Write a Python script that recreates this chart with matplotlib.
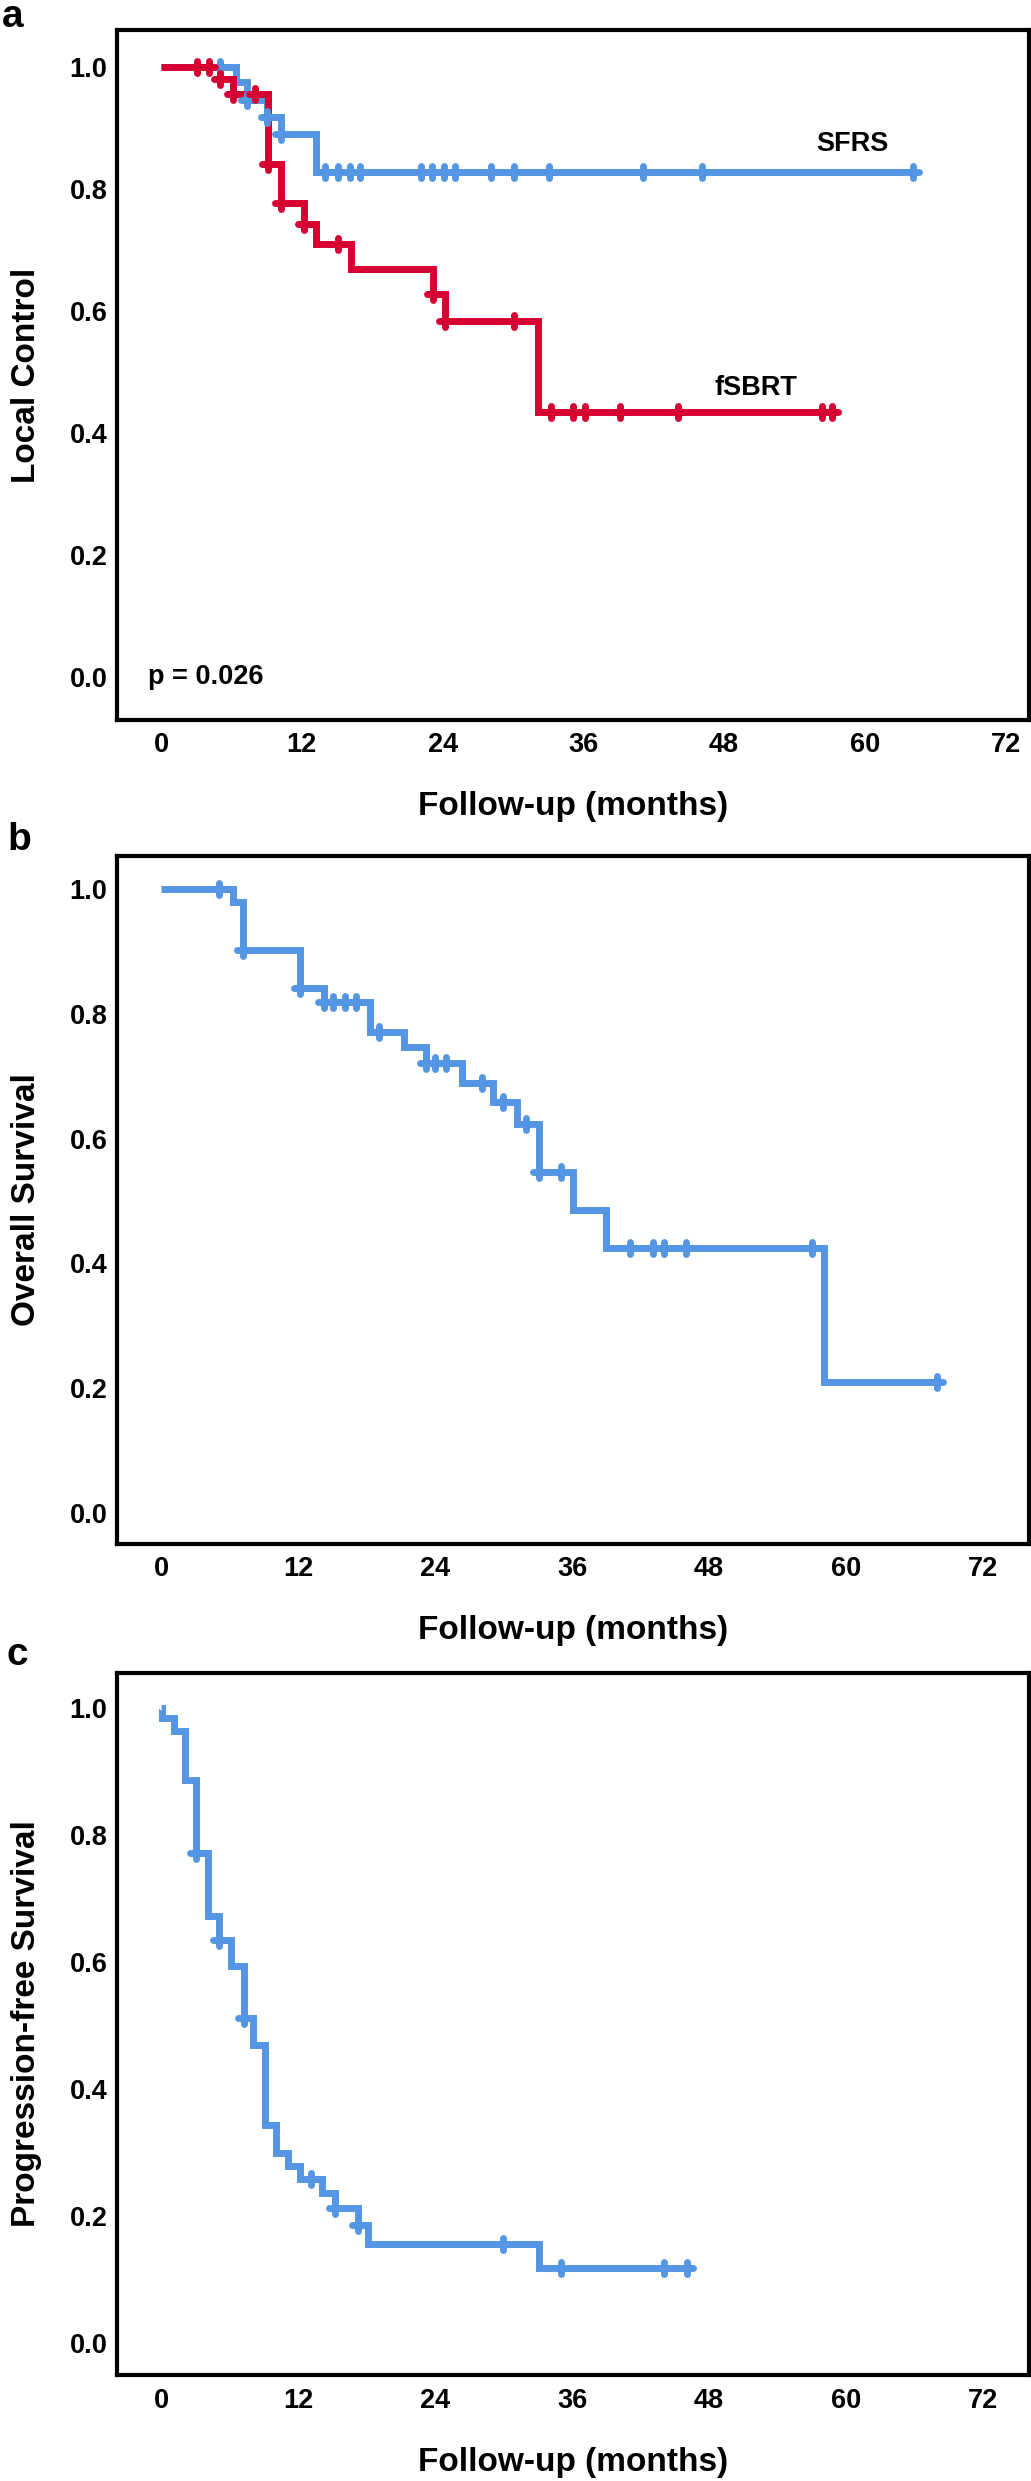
import numpy as np
import matplotlib
matplotlib.use("Agg")
import matplotlib.pyplot as plt
from matplotlib.markers import MarkerStyle

plt.rcParams['font.family'] = ['Liberation Sans', 'DejaVu Sans']
plt.rcParams['font.weight'] = 'bold'
plt.rcParams['axes.labelweight'] = 'bold'

RED = '#d60032'
BLUE = '#5596e4'

# ---- panel a: local control, SFRS vs fSBRT ----
sfrs_times = [6.4, 7.3, 9.0, 10.2, 13.2]
sfrs_surv = [0.975, 0.945, 0.918, 0.889, 0.828]
sfrs_cens = [5.0, 7.3, 9.0, 10.2, 14.0, 15.1, 16.1, 17.0, 22.2, 23.1, 24.1,
             25.1, 28.1, 30.1, 33.1, 41.1, 46.1, 64.1]

fsbrt_times = [5.0, 6.1, 9.1, 10.2, 12.2, 13.2, 16.2, 23.2, 24.2, 32.1]
fsbrt_surv = [0.979, 0.956, 0.840, 0.776, 0.743, 0.709, 0.668, 0.627, 0.583, 0.434]
fsbrt_cens = [3.1, 4.1, 5.0, 6.1, 8.0, 9.1, 10.2, 12.2, 15.1, 23.2, 24.2, 30.1,
              33.2, 35.1, 36.1, 39.1, 44.1, 56.3, 57.2]

# ---- panel b: overall survival ----
os_times = [6.3, 7.2, 12.2, 14.3, 18.3, 21.3, 23.2, 26.4, 29.1, 31.2, 33.1,
            36.1, 39.0, 58.1]
os_surv = [0.979, 0.902, 0.841, 0.819, 0.771, 0.747, 0.721, 0.689, 0.659,
           0.624, 0.547, 0.486, 0.425, 0.210]
os_cens = [5.1, 7.2, 12.2, 14.3, 15.1, 16.1, 17.1, 19.1, 23.2, 24.0, 25.0,
           28.1, 30.0, 32.0, 33.1, 35.0, 41.1, 43.1, 44.1, 46.0, 57.0, 68.0]

# ---- panel c: progression-free survival ----
pfs_times = [0.1, 1.1, 2.1, 3.1, 4.1, 5.1, 6.1, 7.3, 8.1, 9.1, 10.1, 11.1,
             12.2, 14.1, 15.2, 17.3, 18.1, 33.1]
pfs_surv = [0.984, 0.964, 0.887, 0.772, 0.672, 0.635, 0.594, 0.512, 0.469,
            0.343, 0.299, 0.279, 0.258, 0.236, 0.213, 0.186, 0.156, 0.118]
pfs_cens = [3.1, 5.1, 7.3, 13.1, 15.2, 17.3, 30.0, 35.0, 44.1, 46.1]

x_ticks = [0, 12, 24, 36, 48, 60, 72]
y_ticks = [0.0, 0.2, 0.4, 0.6, 0.8, 1.0]

W, H = 1031, 2481
fig = plt.figure(figsize=(W / 100, H / 100), dpi=100)

cens_marker = MarkerStyle('+', capstyle='round')


def km_curve(ax, times, surv, cens, color):
    x = np.r_[0, times, max(cens)]
    y = np.r_[1.0, surv, surv[-1]]
    ax.step(x, y, where='post', color=color, lw=5, solid_joinstyle='miter',
            solid_capstyle='butt', zorder=3)


def km_cens(ax, times, surv, cens, color):
    t = np.r_[0, times]
    s = np.r_[1.0, surv]
    idx = np.searchsorted(t, cens, side='right') - 1
    ax.plot(cens, s[idx], linestyle='none', marker=cens_marker, ms=9,
            mew=5, color=color, zorder=4)


def make_axes(top, bottom, xlim, ylim, ylabel):
    left, right = 117, 1028.5
    ax = fig.add_axes([left / W, 1 - bottom / H, (right - left) / W, (bottom - top) / H])
    ax.set_xlim(*xlim)
    ax.set_ylim(*ylim)
    ax.set_xticks(x_ticks)
    ax.set_yticks(y_ticks)
    ax.set_yticklabels([f'{v:.1f}' for v in y_ticks])
    ax.tick_params(axis='both', length=0, labelsize=19.5)
    ax.tick_params(axis='x', pad=9)
    ax.tick_params(axis='y', pad=7)
    for sp in ax.spines.values():
        sp.set_linewidth(3)
        sp.set_color('black')
    ax.set_xlabel('Follow-up (months)', fontsize=24, fontweight='bold', va='center')
    ax.xaxis.set_label_coords(0.5, -87 / (bottom - top))
    ax.set_ylabel(ylabel, fontsize=24, fontweight='bold', va='center')
    ax.yaxis.set_label_coords(-90 / (right - left), 0.5)
    return ax


# panel a
ax1 = make_axes(30, 720, (-3.75, 73.94), (-0.07, 1.06), 'Local Control')
km_curve(ax1, sfrs_times, sfrs_surv, sfrs_cens, BLUE)
km_curve(ax1, fsbrt_times, fsbrt_surv, fsbrt_cens, RED)
km_cens(ax1, sfrs_times, sfrs_surv, sfrs_cens, BLUE)
km_cens(ax1, fsbrt_times, fsbrt_surv, fsbrt_cens, RED)
ax1.text(58.9, 0.874, 'SFRS', fontsize=19.5, ha='center', va='center')
ax1.text(50.7, 0.473, 'fSBRT', fontsize=19.5, ha='center', va='center')
ax1.text(-1.1, 0.0, 'p = 0.026', fontsize=19.5, ha='left', va='center')

# panel letters
fig.text(2 / W, 1 - 27 / H, 'a', fontsize=28, ha='left', va='baseline')
fig.text(7 / W, 1 - 850 / H, 'b', fontsize=28, ha='left', va='baseline')
fig.text(7 / W, 1 - 1665 / H, 'c', fontsize=28, ha='left', va='baseline')

# panel b
ax2 = make_axes(856, 1544, (-3.85, 75.98), (-0.05, 1.053), 'Overall Survival')
km_curve(ax2, os_times, os_surv, os_cens, BLUE)
km_cens(ax2, os_times, os_surv, os_cens, BLUE)

# panel c
ax3 = make_axes(1673, 2375, (-3.85, 75.98), (-0.05, 1.055), 'Progression-free Survival')
km_curve(ax3, pfs_times, pfs_surv, pfs_cens, BLUE)
km_cens(ax3, pfs_times, pfs_surv, pfs_cens, BLUE)

fig.savefig('out.png', dpi=100, facecolor='white')
